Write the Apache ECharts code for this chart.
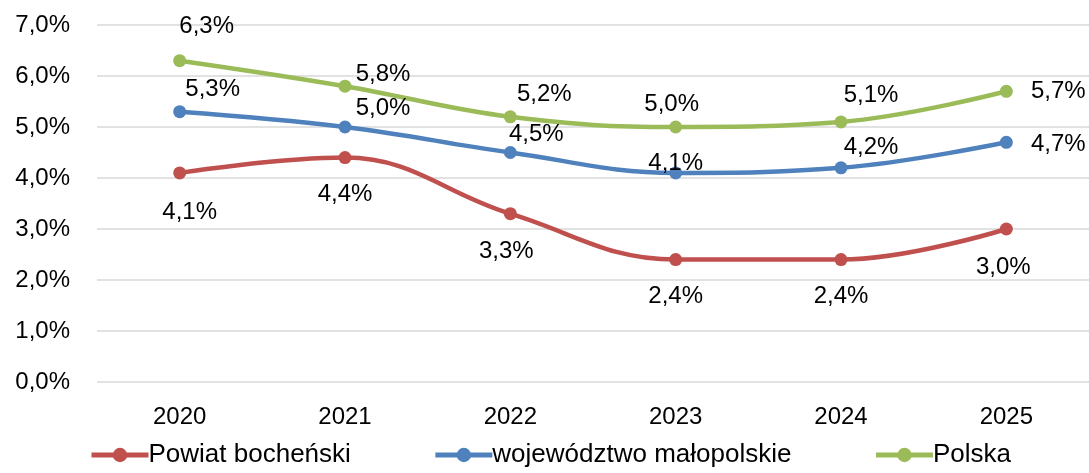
<!DOCTYPE html>
<html><head><meta charset="utf-8">
<script src="https://cdn.jsdelivr.net/npm/echarts@6/dist/echarts.min.js"></script>
<style>html,body{margin:0;padding:0;background:#fff}#c{width:1089px;height:473px}</style>
</head><body><div id="c"></div>
<script>
const categories = ['2020','2021','2022','2023','2024','2025'];
const powiat = [4.1, 4.4, 3.3, 2.4, 2.4, 3.0];
const wojewodztwo = [5.3, 5.0, 4.5, 4.1, 4.2, 4.7];
const polska = [6.3, 5.8, 5.2, 5.0, 5.1, 5.7];
const seriesNames = ['Powiat bocheński', 'województwo małopolskie', 'Polska'];
const yTicks = [0, 1, 2, 3, 4, 5, 6, 7];

// label offsets (style only)
const offPowiat = [[10,39],[0,37],[-4,38],[0,37],[0,37],[-3,38]];
const offWoj = [[33,-22],[38,-19],[26,-18],[0,-10],[30,-20],[52,2]];
const offPol = [[27,-34],[38,-12],[34,-22],[-4,-23],[30,-27],[52,0]];

const FONT = '"Liberation Sans", Arial, sans-serif';
const fmt = v => v.toFixed(1).replace('.', ',') + '%';

function mk(name, vals, offs, color) {
  return {
    name, type: 'line', smooth: 0.4,
    data: vals.map((v, i) => ({
      value: v,
      label: { offset: offs[i] }
    })),
    symbol: 'circle', symbolSize: 13,
    lineStyle: { width: 4.5, color },
    itemStyle: { color },
    label: {
      show: true, position: 'inside', align: 'center', verticalAlign: 'middle',
      color: '#000', fontSize: 24, fontFamily: FONT,
      formatter: p => fmt(p.value)
    },
    z: 3
  };
}

const chart = echarts.init(document.getElementById('c'));
chart.setOption({
  animation: false,
  grid: { left: 97, right: 0, top: 25, bottom: 91, containLabel: false },
  xAxis: {
    type: 'category', data: categories, boundaryGap: true,
    axisLine: { show: false }, axisTick: { show: false },
    axisLabel: { color: '#000', fontSize: 24, fontFamily: FONT, margin: 23 }
  },
  yAxis: {
    type: 'value', min: yTicks[0], max: yTicks[yTicks.length - 1], interval: 1,
    axisLine: { show: false }, axisTick: { show: false },
    splitLine: { lineStyle: { color: '#d9d9d9', width: 1.5 } },
    axisLabel: { color: '#000', fontSize: 24, fontFamily: FONT, margin: 27, formatter: v => fmt(v) }
  },
  legend: {
    bottom: 0, left: 84, itemGap: 82, itemWidth: 57, itemHeight: 18,
    lineStyle: { width: 5 },
    textStyle: { color: '#000', fontSize: 26, fontFamily: FONT, padding: [0,0,0,-5] },
    data: seriesNames
  },
  series: [
    mk(seriesNames[0], powiat, offPowiat, '#C0504D'),
    mk(seriesNames[1], wojewodztwo, offWoj, '#4F81BD'),
    mk(seriesNames[2], polska, offPol, '#9BBB59')
  ]
});
</script></body></html>
